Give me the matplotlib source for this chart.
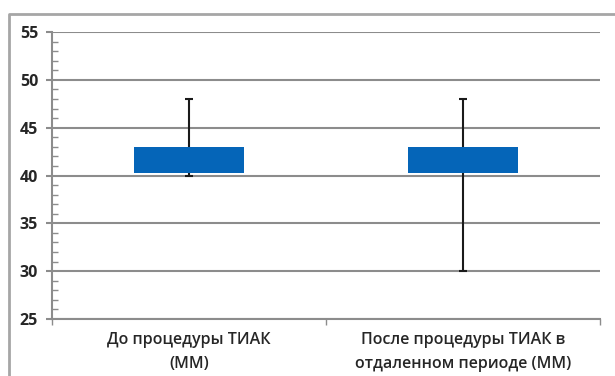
import numpy as np
import matplotlib.pyplot as plt
from matplotlib.lines import Line2D
from matplotlib.ticker import MultipleLocator, FixedLocator

categories = ['До процедуры ТИАК\n(ММ)', 'После процедуры ТИАК в\nотдаленном периоде (ММ)']
q1 = [40.25, 40.25]
q3 = [43, 43]
low = [40, 30]
high = [48, 48]

plt.rcParams['font.family'] = ['Open Sans', 'DejaVu Sans']

fig = plt.figure(figsize=(6.15, 3.76), dpi=100)
ax = fig.add_axes([52 / 615, 1 - 319 / 376, 548 / 615, 287 / 376])

x = np.arange(len(categories))
q1 = np.array(q1)
q3 = np.array(q3)
low = np.array(low)
high = np.array(high)

# whiskers drawn through the middle, box covers the inner part
mid = (low + high) / 2
ax.errorbar(x, mid, yerr=[mid - low, high - mid], fmt='none', ecolor='#1a1a1a',
            elinewidth=1.5, capsize=3, capthick=1.5, zorder=2)
ax.bar(x, q3 - q1, bottom=q1, width=0.4, color='#0565b8', zorder=3)

ax.set_ylim(25, 55)
ax.set_xlim(-0.5, 1.5)
ax.yaxis.set_major_locator(MultipleLocator(5))
ax.yaxis.set_minor_locator(MultipleLocator(1))
ax.grid(True, axis='y', color='#8c8c8c', linewidth=1.5)
ax.set_axisbelow(True)

ax.set_xticks(x)
ax.set_xticklabels(categories, fontsize=11.5, fontweight='semibold', color='#262626',
                   linespacing=1.7)
ax.xaxis.set_minor_locator(FixedLocator([-0.5, 0.5, 1.5]))
ax.tick_params(axis='x', which='major', length=0, pad=9)
ax.tick_params(axis='x', which='minor', length=4, width=1, color='#8c8c8c', direction='out')
ax.tick_params(axis='y', which='major', length=4, width=1.5, color='#8c8c8c',
               direction='out', labelsize=11.5, labelcolor='#262626', pad=6)
ax.tick_params(axis='y', which='minor', length=4, width=1, color='#8c8c8c', direction='in')
for lab in ax.get_yticklabels():
    lab.set_fontweight('bold')

for side in ['top', 'right']:
    ax.spines[side].set_visible(False)
for side in ['left', 'bottom']:
    ax.spines[side].set_color('#8c8c8c')
    ax.spines[side].set_linewidth(1.5)

# outer chart frame
fig.add_artist(Line2D([9 / 615, 9 / 615, 1.0], [0.0, 1 - 14 / 376, 1 - 14 / 376],
                      transform=fig.transFigure, color='#a6a6a6', linewidth=2))

fig.savefig('out.png', dpi=100)
